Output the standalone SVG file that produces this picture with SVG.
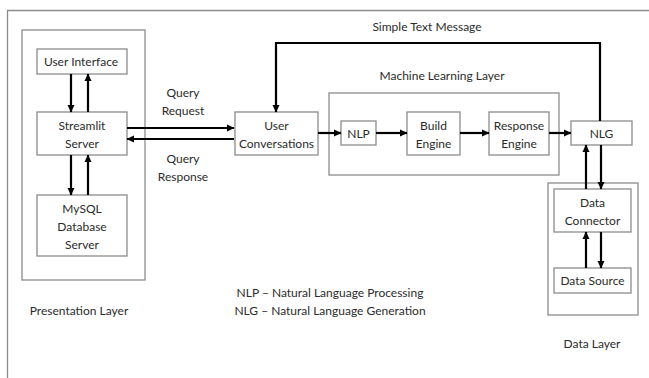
<svg xmlns="http://www.w3.org/2000/svg" width="649" height="378" viewBox="0 0 649 378">
<defs>
<marker id="ah" markerWidth="8" markerHeight="8" refX="7" refY="4" orient="auto" markerUnits="userSpaceOnUse">
<path d="M0,0.5 L7.5,4 L0,7.5 Z" fill="#000"/>
</marker>
</defs>
<style>
.box{fill:#fff;stroke:#8c8c8c;stroke-width:1.3}
.frame{fill:none;stroke:#8c8c8c;stroke-width:1.3}
text{font-family:Lato,"Open Sans","Liberation Sans",sans-serif;font-size:12px;fill:#2b2b2b;text-anchor:middle}
.c{fill:none;stroke:#000;stroke-width:2.2}
.a{marker-end:url(#ah)}
</style>
<rect width="649" height="378" fill="#fff"/>
<path class="frame" d="M7.5,378 V10.5 H649"/>

<g id="presentation-layer">
<rect class="frame" x="22" y="30" width="123" height="250"/>
<text x="79" y="315">Presentation Layer</text>
</g>
<g id="ml-layer">
<rect class="frame" x="329" y="93" width="230" height="82"/>
<text x="442" y="80">Machine Learning Layer</text>
</g>
<g id="data-layer">
<rect class="frame" x="548" y="183" width="90" height="132"/>
<text x="592" y="348">Data Layer</text>
</g>

<g id="user-interface">
<rect class="box" x="37" y="49" width="90" height="25"/>
<text x="81" y="66">User Interface</text>
</g>
<g id="streamlit-server">
<rect class="box" x="37" y="112" width="90" height="43"/>
<text x="82" y="130">Streamlit</text>
<text x="82" y="148">Server</text>
</g>
<g id="mysql">
<rect class="box" x="37" y="195" width="90" height="61"/>
<text x="82" y="213">MySQL</text>
<text x="82" y="231">Database</text>
<text x="82" y="249">Server</text>
</g>
<g id="user-conversations">
<rect class="box" x="235" y="112" width="83" height="43"/>
<text x="276.5" y="130">User</text>
<text x="276.5" y="148">Conversations</text>
</g>
<g id="nlp">
<rect class="box" x="341" y="121" width="35" height="24"/>
<text x="358.5" y="137.5">NLP</text>
</g>
<g id="build-engine">
<rect class="box" x="407" y="112" width="53" height="43"/>
<text x="433.5" y="130">Build</text>
<text x="433.5" y="148">Engine</text>
</g>
<g id="response-engine">
<rect class="box" x="489" y="112" width="60" height="43"/>
<text x="519" y="130">Response</text>
<text x="519" y="148">Engine</text>
</g>
<g id="nlg">
<rect class="box" x="571" y="121" width="61" height="24"/>
<text x="601.5" y="137.5">NLG</text>
</g>
<g id="data-connector">
<rect class="box" x="554" y="189" width="77" height="43"/>
<text x="592.5" y="207">Data</text>
<text x="592.5" y="225">Connector</text>
</g>
<g id="data-source">
<rect class="box" x="554" y="268" width="77" height="25"/>
<text x="592.5" y="285">Data Source</text>
</g>

<g id="connectors">
<path class="c a" d="M71,74 V112"/>
<path class="c a" d="M88,112 V74"/>
<path class="c a" d="M71,155 V195"/>
<path class="c a" d="M88,195 V155"/>
<path class="c a" d="M127,128 H234"/>
<path class="c a" d="M234,139 H127"/>
<path class="c a" d="M318,133 H341"/>
<path class="c a" d="M376,133 H407"/>
<path class="c a" d="M460,133 H489"/>
<path class="c a" d="M549,133 H571"/>
<path class="c a" d="M600,121 V43 H276 V112"/>
<path class="c a" d="M586,189 V145"/>
<path class="c a" d="M601,145 V189"/>
<path class="c a" d="M586,268 V232"/>
<path class="c a" d="M601,232 V268"/>
</g>

<g id="labels">
<text x="183" y="97">Query</text>
<text x="183" y="115">Request</text>
<text x="183" y="163">Query</text>
<text x="183" y="181">Response</text>
<text x="427" y="31">Simple Text Message</text>
<text x="330" y="297">NLP – Natural Language Processing</text>
<text x="330" y="315">NLG – Natural Language Generation</text>
</g>
</svg>
